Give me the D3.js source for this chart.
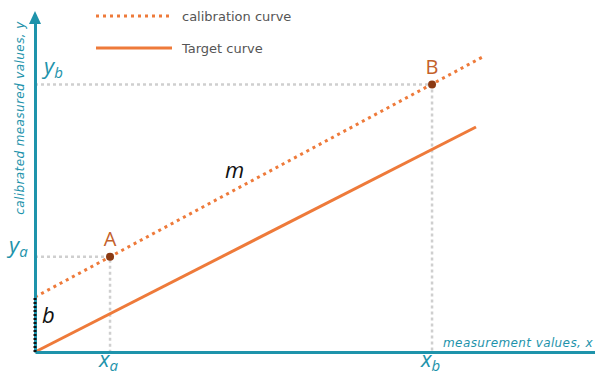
<!DOCTYPE html>
<meta charset="utf-8">
<script src="https://d3js.org/d3.v7.min.js"></script>
<style>
body { margin: 0; background: #fff; }
svg text { font-family: "Open Sans", sans-serif; }
.axis path { stroke: #1e93ab; stroke-width: 3; }
.guide { stroke: #cfcfcf; stroke-width: 2.5; stroke-dasharray: 3,3; fill: none; }
.calib { stroke: #ee7a3a; stroke-width: 3; stroke-dasharray: 3,4; fill: none; }
.target { stroke: #ee7a3a; stroke-width: 3; fill: none; }
.teal { fill: #1e93ab; }
.pt { fill: #8b3a13; }
.ptlabel { fill: #c4612b; font-size: 20px; text-anchor: middle; }
.legend { fill: #555; font-size: 13px; font-family: "DejaVu Sans", sans-serif !important; }
.sym { font-style: italic; font-size: 22px; fill: #111; }
.title { font-family: "DejaVu Sans", sans-serif !important; font-size: 12px; font-style: italic; letter-spacing: 0.4px; }
</style>
<body>
<div id="chart"></div>
<script>

// line data (abstract units)
var calibration = [{x: 0, y: 9.7}, {x: 80, y: 52.1}];
var target = [{x: 0, y: 0}, {x: 78.75, y: 39.7}];
var points = [{name: "A", x: 13.4, y: 16.8, xl: "x", yl: "y", sub: "a"},
              {name: "B", x: 70.9, y: 47.2, xl: "x", yl: "y", sub: "b"}];
var legendNames = ["calibration curve", "Target curve"];

var width = 595, height = 376;

var x = d3.scaleLinear().domain([0, 100]).range([35, 595]);
var y = d3.scaleLinear().domain([0, 60]).range([352, 12]);

var svg = d3.select("#chart").append("svg")
    .attr("width", width)
    .attr("height", height);

var line = d3.line()
    .x(function(d) { return x(d.x); })
    .y(function(d) { return y(d.y); });

// guide lines to A and B
points.forEach(function(p) {
  svg.append("path")
      .attr("class", "guide")
      .attr("d", "M" + x(0) + "," + y(p.y) + "H" + x(p.x) + "V" + y(0));
});

// target curve
svg.append("path")
    .datum(target)
    .attr("class", "target")
    .attr("d", line);

// calibration curve
svg.append("path")
    .datum(calibration)
    .attr("class", "calib")
    .attr("d", line);

// axes (no ticks)
svg.append("g")
    .attr("class", "axis")
    .attr("transform", "translate(0," + y(0) + ")")
    .call(d3.axisBottom(x).tickValues([]).tickSizeOuter(0));

svg.append("g")
    .attr("class", "axis")
    .attr("transform", "translate(" + x(0) + ",0)")
    .call(d3.axisLeft(y).tickValues([]).tickSizeOuter(0).scale(y.copy().range([352, 22])));

// arrow head on y axis
svg.append("path")
    .attr("d", "M" + (x(0) - 6) + ",24 L" + x(0) + ",11 L" + (x(0) + 6) + ",24 Z")
    .attr("fill", "#1e93ab");

// intercept b (black dotted over y axis)
svg.append("line")
    .attr("x1", x(0)).attr("x2", x(0))
    .attr("y1", y(0)).attr("y2", y(calibration[0].y))
    .attr("stroke", "#111")
    .attr("stroke-width", 3)
    .attr("stroke-dasharray", "2,2");

// points
svg.selectAll(".pt")
    .data(points)
  .enter().append("circle")
    .attr("class", "pt")
    .attr("cx", function(d) { return x(d.x); })
    .attr("cy", function(d) { return y(d.y); })
    .attr("r", 4);

svg.selectAll(".ptlabel")
    .data(points)
  .enter().append("text")
    .attr("class", "ptlabel")
    .attr("x", function(d) { return x(d.x); })
    .attr("y", function(d) { return y(d.y) - 11; })
    .text(function(d) { return d.name; });

// x_a, x_b labels
var xl = svg.selectAll(".xl")
    .data(points)
  .enter().append("text")
    .attr("class", "teal")
    .attr("x", function(d) { return x(d.x) - 11; })
    .attr("y", 367)
    .style("font-size", "22px")
    .style("font-style", "italic");
xl.append("tspan").text(function(d) { return d.xl; });
xl.append("tspan").attr("dy", 4).style("font-size", "15px").text(function(d) { return d.sub; });

// y_a, y_b labels
var yl = svg.selectAll(".yl")
    .data(points)
  .enter().append("text")
    .attr("class", "teal")
    .attr("x", function(d, i) { return i === 0 ? 9 : 44; })
    .attr("y", function(d, i) { return i === 0 ? y(d.y) - 4 : y(d.y) - 11; })
    .style("font-size", "22px")
    .style("font-style", "italic");
yl.append("tspan").text(function(d) { return d.yl; });
yl.append("tspan").attr("dy", 4).style("font-size", "15px").text(function(d) { return d.sub; });

// m and b
svg.append("text").attr("class", "sym").attr("x", 225).attr("y", 178).text("m");
svg.append("text").attr("class", "sym").attr("x", 42).attr("y", 323).text("b");

// axis titles
svg.append("text")
    .attr("class", "teal title")
    .attr("transform", "translate(24,118) rotate(-90)")
    .attr("text-anchor", "middle")
    .text("calibrated measured values, y");

svg.append("text")
    .attr("class", "teal title")
    .attr("x", 593)
    .attr("y", 347)
    .attr("text-anchor", "end")
    .text("measurement values, x");

// legend
var legend = svg.selectAll(".lg")
    .data(legendNames)
  .enter().append("g")
    .attr("transform", function(d, i) { return "translate(96," + (16 + i * 32) + ")"; });

legend.append("line")
    .attr("class", function(d, i) { return i === 0 ? "calib" : "target"; })
    .attr("x1", 0).attr("x2", 76);

legend.append("text")
    .attr("class", "legend")
    .attr("x", 86)
    .attr("y", 4.5)
    .text(function(d) { return d; });

</script>
</body>
</html>
